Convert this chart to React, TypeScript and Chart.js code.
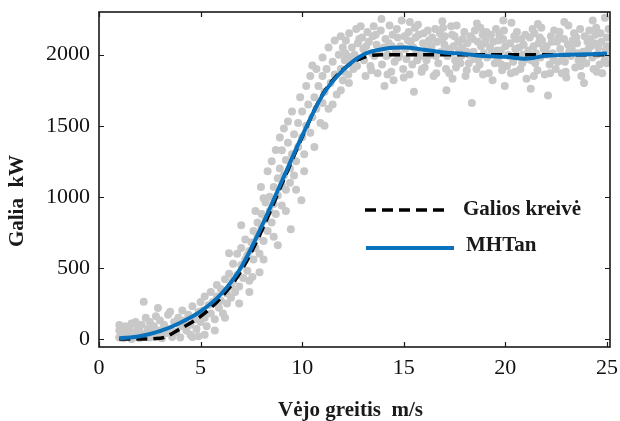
import React, { useEffect, useRef } from "react";
import { Chart, registerables } from "chart.js";

Chart.register(...registerables);

// Power curve (black dashed) — wind speed m/s vs power kW
const curveSpeed = [1, 2, 3, 4, 5, 6, 7, 8, 9, 10, 11, 12, 13, 14, 15, 16, 17, 18, 19, 20, 21, 22, 23, 24, 25];
const curvePower = [0, 0, 5, 72, 160, 290, 480, 760, 1090, 1420, 1720, 1895, 1980, 2000, 2000, 2000, 2000, 2000, 2000, 2000, 2000, 2000, 2000, 2000, 2000];

// MHTan model (blue)
const mhtanSpeed = [1, 2, 3, 4, 5, 6, 7, 8, 9, 10, 11, 12, 13, 14, 15, 16, 17, 18, 19, 20, 21, 22, 23, 24, 25];
const mhtanPower = [5, 20, 55, 115, 195, 315, 505, 790, 1110, 1430, 1715, 1890, 2000, 2040, 2050, 2035, 2015, 2005, 1990, 1985, 1972, 1992, 2000, 2002, 2008];

// Measured data scatter (wind speed, power)
const measuredPoints: [number, number][] = [
  [1.0, 10], [1.0, 60], [1.0, 98], [1.1, 30], [1.2, 5], [1.3, 45], [1.3, 90], [1.4, 20], [1.5, 70], [1.6, 110],
  [1.6, 0], [1.7, 40], [1.8, 120], [1.8, 15], [1.9, 80], [2.0, 55], [2.0, 5], [2.1, 100], [2.2, 262], [2.2, 30],
  [2.3, 150], [2.4, 70], [2.5, 10], [2.5, 120], [2.6, 45], [2.7, 90], [2.8, 160], [2.9, 218], [2.9, 20], [3.0, 60],
  [3.0, 130], [3.1, 5], [3.2, 100], [3.3, 40], [3.4, 170], [3.5, 192], [3.5, 70], [3.6, 15], [3.7, 120], [3.8, 50],
  [3.9, 150], [4.0, 90], [4.0, 10], [4.1, 200], [4.2, 130], [4.3, 60], [4.4, 170], [4.5, 100], [4.5, 30], [4.6, 230],
  [4.6, 14], [4.7, 140], [4.8, 70], [4.9, 190], [5.0, 260], [5.0, 120], [4.9, 20], [5.2, 30], [5.7, 60], [6.2, 150],
  [5.1, 200], [5.2, 150], [5.2, 300], [5.3, 90], [5.4, 240], [5.5, 180], [5.5, 330], [5.6, 260], [5.7, 140], [5.8, 300],
  [5.8, 380], [5.9, 220], [6.0, 270], [6.0, 350], [6.1, 180], [6.2, 420], [6.3, 320], [6.3, 250], [6.4, 460], [6.4, 603],
  [6.5, 370], [6.5, 290], [6.6, 530], [6.6, 410], [6.7, 330], [6.8, 600], [6.8, 450], [6.9, 370], [7.0, 520], [7.0, 640],
  [7.0, 800], [7.1, 430], [7.2, 560], [7.2, 700], [7.3, 480], [7.4, 620], [7.4, 410], [7.5, 680], [7.55, 437], [7.6, 760],
  [7.6, 560], [7.7, 640], [7.8, 820], [7.8, 720], [7.9, 600], [7.97, 1069], [8.0, 780], [8.0, 880], [8.1, 690], [8.2, 840],
  [8.2, 960], [8.3, 760], [8.4, 900], [8.4, 1000], [8.5, 820], [8.6, 1070], [8.6, 950], [8.7, 880], [8.8, 1130], [8.8, 1010],
  [8.8, 660], [8.9, 1418], [8.9, 1200], [9.0, 1327], [9.0, 1080], [9.0, 940], [9.1, 1150], [9.2, 1260], [9.2, 1050], [9.3, 1380],
  [9.4, 1200], [9.4, 1100], [9.44, 772], [9.5, 1300], [9.6, 1440], [9.6, 1150], [9.7, 1250], [9.8, 1520], [9.8, 1350], [9.96, 976],
  [10.0, 1420], [10.0, 1600], [10.1, 1300], [10.2, 1500], [10.3, 1650], [10.4, 1450], [10.5, 1923], [10.5, 1560], [10.6, 1700], [10.7, 1620],
  [10.8, 1780], [10.9, 1520], [11.0, 1660], [11.0, 1850], [11.1, 1740], [11.2, 1900], [11.3, 1620], [11.4, 1800], [11.5, 1950], [11.6, 1860],
  [11.7, 1720], [11.8, 2000], [11.9, 1900], [12.0, 1820], [12.0, 2050], [12.1, 1960],
  [6.9, 250], [7.3, 590], [7.4, 330], [7.7, 900], [7.9, 470], [8.1, 990], [8.1, 560], [8.3, 1180], [8.5, 1250], [8.6, 720],
  [8.7, 1330], [9.1, 1480], [9.2, 900], [9.3, 1530], [9.5, 1600], [9.7, 1050], [9.9, 1700], [10.1, 1180], [10.2, 1780], [10.4, 1850],
  [10.6, 1350], [10.7, 1900], [11.0, 1980], [11.1, 1500], [11.3, 2050], [11.5, 1650], [11.6, 2100], [11.9, 2130], [11.9, 1750], [12.3, 1800],
  [12.05, 1880], [12.15, 2100], [12.22, 1990], [12.31, 2150], [12.38, 1940], [12.45, 2050], [12.27, 1860],
  [12.58, 2000], [12.66, 2180], [12.52, 1900], [12.74, 2080], [12.95, 2120], [13.04, 1960], [12.88, 2200], [13.12, 1850], [13.01, 2040],
  [13.28, 2090], [13.36, 1920], [13.21, 2160], [13.44, 2010], [13.62, 2140], [13.55, 1990], [13.71, 1870], [13.66, 2070], [13.52, 2200],
  [14.02, 2050], [13.93, 1930], [14.1, 2110], [13.87, 2170], [14.05, 1780], [14.3, 2205], [14.22, 2000], [14.38, 1880], [14.27, 2080], [14.45, 2140],
  [14.61, 2020], [14.55, 1950], [14.7, 2120], [14.5, 1820], [14.66, 2180], [14.9, 2240], [14.83, 2060], [14.97, 1900], [14.78, 2000], [15.04, 2130],
  [15.2, 2100], [15.13, 1970], [15.29, 1860], [15.24, 2160], [15.5, 1740], [15.47, 2050], [15.55, 2190], [15.42, 1930], [15.62, 2010], [15.58, 2120],
  [15.8, 1990], [15.74, 2140], [15.88, 1880], [15.95, 2080], [15.7, 2210], [16.1, 2030], [16.03, 1910], [16.18, 2170], [16.24, 2100], [16.12, 1960],
  [16.4, 2120], [16.33, 2000], [16.47, 1850], [16.55, 2180], [16.37, 2060], [16.7, 1940], [16.64, 2090], [16.78, 2150], [16.85, 2020], [17.1, 1750],
  [17.0, 2070], [16.93, 2190], [17.08, 1900], [17.15, 1990], [17.02, 2130], [17.3, 2010], [17.24, 1870], [17.38, 2140], [17.45, 2060], [17.33, 2200],
  [17.6, 2205], [17.53, 1960], [17.68, 2090], [17.74, 2030], [17.57, 1910], [17.9, 2110], [17.83, 1990], [17.98, 2160], [18.04, 1850], [17.87, 2050],
  [18.2, 1940], [18.13, 2080], [18.28, 2130], [18.22, 2000], [18.35, 1660], [18.5, 2170], [18.43, 2020], [18.58, 1900], [18.64, 2090], [18.47, 1970],
  [18.8, 2060], [18.73, 1930], [18.88, 2140], [18.94, 2010], [18.77, 2190], [19.1, 1980], [19.03, 2110], [19.18, 1870], [19.24, 2050], [19.07, 2160],
  [19.4, 2090], [19.33, 2010], [19.48, 1940], [19.54, 2180], [19.37, 1820], [19.7, 2140], [19.63, 1960], [19.78, 2030], [19.84, 1890], [19.67, 2100],
  [20.0, 2060], [19.93, 2170], [20.08, 1920], [20.14, 2000], [19.97, 1780], [20.3, 2225], [20.23, 2080], [20.38, 1950], [20.44, 2130], [20.27, 1870],
  [20.6, 1990], [20.53, 2110], [20.68, 2050], [20.74, 1900], [20.57, 2160], [20.9, 2070], [20.83, 1940], [20.98, 2140], [21.04, 1830], [20.87, 2000],
  [21.25, 1760], [21.2, 2120], [21.13, 2030], [21.28, 1960], [21.34, 2180], [21.5, 2010], [21.43, 2150], [21.58, 1890], [21.64, 2080], [21.47, 1940],
  [21.8, 2100], [21.73, 1980], [21.88, 2040], [21.94, 1860], [21.77, 2190], [22.1, 1712], [22.03, 2060], [22.18, 1930], [22.24, 2130], [22.07, 2000],
  [22.4, 2170], [22.33, 2010], [22.48, 1900], [22.54, 2090], [22.37, 1960], [22.7, 2040], [22.63, 2120], [22.78, 1870], [22.84, 1990], [22.67, 2160],
  [23.1, 2205], [22.93, 1950], [23.08, 2070], [23.14, 2020], [22.97, 1880], [23.3, 2100], [23.23, 1990], [23.38, 2150], [23.44, 1910], [23.27, 2040],
  [23.6, 1960], [23.53, 2080], [23.68, 2180], [23.74, 1850], [23.57, 2010], [23.9, 2130], [23.83, 2020], [23.98, 1940], [24.04, 2090], [23.87, 1800],
  [24.2, 2060], [24.13, 2170], [24.28, 1980], [24.34, 1900], [24.17, 2110], [24.5, 2000], [24.43, 2140], [24.58, 2050], [24.64, 1930], [24.47, 2190],
  [24.9, 2260], [24.73, 2090], [24.88, 1960], [24.94, 2030], [24.77, 1870], [25.0, 2120], [25.05, 2000], [24.98, 1940], [25.08, 2180],
  [12.12, 2010], [12.48, 1970], [12.81, 2110], [13.15, 2060], [13.47, 2130], [13.78, 2030], [14.15, 1990], [14.41, 2060], [14.73, 1980], [15.08, 2040],
  [15.35, 2090], [15.66, 1960], [15.98, 2150], [16.27, 2050], [16.58, 1990], [16.9, 2110], [17.19, 2040], [17.5, 2130], [17.79, 1940], [18.09, 2020],
  [18.4, 2110], [18.69, 1980], [18.99, 2080], [19.29, 2140], [19.59, 2030], [19.89, 2110], [20.19, 1990], [20.49, 2040], [20.79, 2110], [21.09, 1970],
  [21.39, 2060], [21.69, 2120], [21.99, 2020], [22.29, 2090], [22.59, 1950], [22.89, 2110], [23.19, 2050], [23.49, 2120], [23.79, 1970], [24.09, 2040],
  [24.39, 2080], [24.69, 2150], [24.99, 2060],
  [12.7, 1920], [13.4, 1890], [14.2, 1860], [15.0, 1840], [15.9, 1900], [16.6, 1870], [17.4, 1830], [18.1, 1890], [18.9, 1860], [19.8, 1930],
  [20.5, 1880], [21.4, 1850], [22.2, 1870], [23.0, 1840], [23.7, 1920], [24.5, 1880],
  [13.9, 2250], [15.3, 2230], [16.9, 2235], [18.6, 2220], [19.9, 2240], [21.6, 2215], [22.9, 2230], [24.3, 2240],
];

const xTicks = [0, 5, 10, 15, 20, 25];
const yTicks = [0, 500, 1000, 1500, 2000];
const xTitle = "Vėjo greitis  m/s";
const yTitle = "Galia  kW";
const legendLabels = ["Galios kreivė", "MHTan"];

const SERIF = "'Liberation Serif', 'Times New Roman', serif";
const BLUE = "#0a72bd";

const framePlugin = {
  id: "frameAndLegend",
  afterDraw(chart: any) {
    const { ctx, chartArea: a, scales } = chart;
    const xs = scales.x;
    const ys = scales.y;
    ctx.save();
    // frame
    ctx.strokeStyle = "#1a1a1a";
    ctx.lineWidth = 1.6;
    ctx.strokeRect(a.left, a.top, a.right - a.left, a.bottom - a.top);
    // inward ticks
    ctx.lineWidth = 1.2;
    const tl = 5;
    ctx.beginPath();
    xTicks.forEach((v) => {
      const px = Math.round(xs.getPixelForValue(v)) + 0.5;
      ctx.moveTo(px, a.bottom);
      ctx.lineTo(px, a.bottom - tl);
      ctx.moveTo(px, a.top);
      ctx.lineTo(px, a.top + tl);
    });
    yTicks.forEach((v) => {
      const py = Math.round(ys.getPixelForValue(v)) + 0.5;
      ctx.moveTo(a.left, py);
      ctx.lineTo(a.left + tl, py);
      ctx.moveTo(a.right, py);
      ctx.lineTo(a.right - tl, py);
    });
    ctx.stroke();

    // axis titles
    ctx.fillStyle = "#1a1a1a";
    ctx.font = `bold 21px ${SERIF}`;
    ctx.textAlign = "center";
    ctx.textBaseline = "middle";
    ctx.fillText(xTitle, (a.left + a.right) / 2 - 4, 411);
    ctx.save();
    ctx.translate(18, 201);
    ctx.rotate(-Math.PI / 2);
    ctx.fillText(yTitle, 0, 0);
    ctx.restore();

    // legend
    ctx.textAlign = "left";
    ctx.lineCap = "butt";
    ctx.strokeStyle = "#000";
    ctx.lineWidth = 3.5;
    ctx.setLineDash([11, 6]);
    ctx.beginPath();
    ctx.moveTo(365, 210);
    ctx.lineTo(448, 210);
    ctx.stroke();
    ctx.setLineDash([]);
    ctx.strokeStyle = BLUE;
    ctx.lineWidth = 4;
    ctx.beginPath();
    ctx.moveTo(366, 248);
    ctx.lineTo(454, 248);
    ctx.stroke();
    ctx.fillStyle = "#1a1a1a";
    ctx.fillText(legendLabels[0], 463, 210);
    ctx.fillText(legendLabels[1], 466, 246);
    ctx.restore();
  },
};

export default function App() {
  const ref = useRef<HTMLCanvasElement | null>(null);
  useEffect(() => {
    if (!ref.current) return;
    const chart = new Chart(ref.current, {
      type: "scatter",
      data: {
        datasets: [
          {
            type: "line",
            label: legendLabels[1],
            data: mhtanSpeed.map((x, i) => ({ x, y: mhtanPower[i] })),
            borderColor: BLUE,
            borderWidth: 4,
            pointRadius: 0,
            cubicInterpolationMode: "monotone",
            fill: false,
            order: 1,
          } as any,
          {
            type: "line",
            label: legendLabels[0],
            data: curveSpeed.map((x, i) => ({ x, y: curvePower[i] })),
            borderColor: "#000",
            borderWidth: 3.5,
            borderDash: [11, 6],
            pointRadius: 0,
            cubicInterpolationMode: "monotone",
            fill: false,
            order: 2,
          } as any,
          {
            type: "scatter",
            label: "data",
            data: measuredPoints.map(([x, y]) => ({ x, y })),
            backgroundColor: "#c8c8c8",
            borderWidth: 0,
            pointRadius: 4,
            order: 3,
          },
        ],
      },
      options: {
        responsive: false,
        animation: false,
        layout: { padding: { left: 0, top: 12, right: 10, bottom: 0 } },
        plugins: { legend: { display: false }, tooltip: { enabled: false } },
        scales: {
          x: {
            type: "linear",
            min: 0,
            max: 25.15,
            afterFit: (s: any) => { s.height = 74; s.paddingLeft = 0; s.paddingRight = 0; },
            afterBuildTicks: (s: any) => { s.ticks = xTicks.map((v) => ({ value: v })); },
            grid: { display: false, drawTicks: false },
            border: { display: false },
            ticks: {
              padding: 8,
              color: "#111",
              font: { family: SERIF, size: 22 },
              callback: (v: any) => String(v),
            },
          },
          y: {
            type: "linear",
            min: -56,
            max: 2300,
            afterFit: (s: any) => { s.width = 99; s.paddingTop = 0; s.paddingBottom = 0; },
            afterBuildTicks: (s: any) => { s.ticks = yTicks.map((v) => ({ value: v })); },
            grid: { display: false, drawTicks: false },
            border: { display: false },
            ticks: {
              padding: 9,
              color: "#111",
              font: { family: SERIF, size: 22 },
              callback: (v: any) => String(v),
            },
          },
        },
      },
      plugins: [framePlugin],
    });
    return () => chart.destroy();
  }, []);
  return (
    <div style={{ position: "fixed", left: 0, top: 0, width: 620, height: 421, background: "#fff" }}>
      <canvas ref={ref} width={620} height={421} style={{ display: "block" }} />
    </div>
  );
}
